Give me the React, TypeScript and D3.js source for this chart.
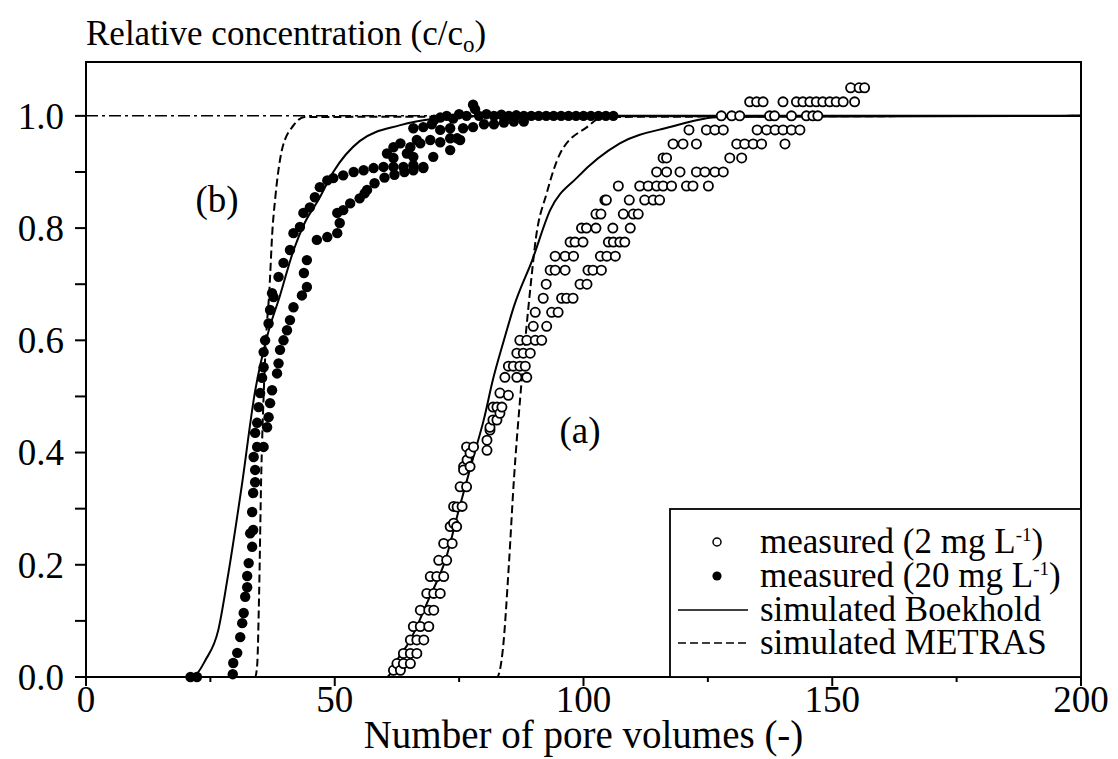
import React from "react";
import * as d3 from "d3";

// ---- data ----
const xTicks = [0, 50, 100, 150, 200];
const xMinorTicks = [25, 75, 125, 175];
const yTicks = [0, 0.2, 0.4, 0.6, 0.8, 1.0];
const yMinorTicks = [0.1, 0.3, 0.5, 0.7, 0.9];

// simulated Boekhold, case (b)
const boekholdB: [number, number][] = [
  [0, 0], [20, 0], [22, 0.004], [24, 0.03], [26.6, 0.084], [28.4, 0.173], [31.3, 0.34],
  [34, 0.51], [36.5, 0.61], [39, 0.68], [41.7, 0.76], [44, 0.81], [46.7, 0.85],
  [49.7, 0.9], [55, 0.955], [63, 0.983], [70, 0.995], [80, 1.0], [200, 1.0],
];
// simulated METRAS, case (b)
const metrasB: [number, number][] = [
  [0, 0], [34, 0], [34.4, 0.02], [34.8, 0.15], [35.2, 0.35], [35.7, 0.5], [36.3, 0.62],
  [36.8, 0.68], [37.5, 0.8], [38, 0.85], [39.4, 0.94], [41.7, 0.983], [44, 0.998], [200, 1.0],
];
// simulated Boekhold, case (a)
const boekholdA: [number, number][] = [
  [0, 0], [60.5, 0], [62.5, 0.03], [65.2, 0.066], [68.8, 0.137], [72.3, 0.21], [75, 0.3],
  [77.8, 0.39], [80, 0.46], [81.8, 0.53], [84, 0.6], [86, 0.66], [89.7, 0.743],
  [93.3, 0.832], [98.7, 0.89], [107.3, 0.951], [117.4, 0.98], [127.4, 0.998], [200, 1.0],
];
// simulated METRAS, case (a)
const metrasA: [number, number][] = [
  [0, 0], [82.6, 0], [83.8, 0.05], [85, 0.2], [86, 0.35], [87.3, 0.5], [88.5, 0.62],
  [89.4, 0.7], [90.4, 0.78], [92.6, 0.862], [95.3, 0.933], [100.7, 0.98], [104, 0.998], [200, 1.0],
];

// measured (20 mg L-1)
const measured20: [number, number][] = [
  [21, 0], [22.3, 0], [29.5, 0.005],
  [29.6, 0.025], [30.4, 0.043], [31, 0.071], [31.4, 0.096], [31.7, 0.114], [32, 0.143],
  [32.4, 0.16], [32.4, 0.18], [32.7, 0.203], [33.4, 0.232], [33, 0.256], [33.6, 0.262],
  [33.4, 0.294], [33.6, 0.328], [34, 0.347],
  [34, 0.369], [33.7, 0.392], [34.4, 0.41], [34, 0.435], [34.4, 0.453], [34.7, 0.481],
  [35, 0.506], [35.4, 0.533], [35.7, 0.552], [35.7, 0.579], [36, 0.6], [36.7, 0.63],
  [37, 0.654], [37.7, 0.677], [37.4, 0.684], [38.7, 0.713], [39.7, 0.738], [41, 0.761],
  [41.7, 0.791], [43, 0.802], [43.7, 0.827], [45, 0.837], [46, 0.855], [47, 0.873],
  [48.5, 0.885], [49.7, 0.889], [51.7, 0.894], [53.8, 0.9], [55.8, 0.903], [57.8, 0.907],
  [59.8, 0.909], [61.8, 0.909], [63.8, 0.909], [65.8, 0.912],
  [35.7, 0.41], [36.4, 0.445], [36.7, 0.463], [37, 0.488], [37.4, 0.511], [38.4, 0.541],
  [38.7, 0.559], [39, 0.583], [39.7, 0.6], [40.4, 0.618], [41, 0.636], [41.7, 0.659],
  [43.4, 0.68], [44.4, 0.695], [43.8, 0.72], [44.4, 0.743], [46.4, 0.779], [48.5, 0.784],
  [50.5, 0.791], [51, 0.809], [50.5, 0.827], [51.7, 0.832], [53.1, 0.844], [55, 0.853],
  [56, 0.862], [56.5, 0.868], [58, 0.88], [60, 0.89], [62, 0.895], [64, 0.9],
  [60.5, 0.933], [61.8, 0.925], [61.8, 0.944], [63.2, 0.951], [64.5, 0.933], [65.2, 0.944],
  [65.8, 0.927], [66.5, 0.957], [67.2, 0.951], [67.8, 0.909], [69.2, 0.957], [69.8, 0.927],
  [71.2, 0.953], [73.2, 0.96], [73.2, 0.939], [74.6, 0.96], [75.2, 0.957], [67.8, 0.907],
  [65.8, 0.903],
  [65.8, 0.978], [67.8, 0.98], [69.5, 0.985], [71.2, 0.975], [73.2, 0.978], [75.8, 0.978],
  [77.8, 0.98], [80, 0.985], [82, 0.985], [84, 0.988], [86, 0.99], [88, 0.99],
  [70, 0.993], [71.2, 0.997], [72.5, 1.0], [73.8, 0.995], [75, 1.003], [76.5, 1.0],
  [77.8, 1.02], [78.2, 1.012], [79, 1.0], [80.5, 1.003], [82, 1.0], [83.5, 1.002],
  [85, 1.0], [86.5, 1.001], [88, 1.0], [89.5, 1.0], [91, 1.0], [92.5, 1.0], [94, 1.0],
  [95.5, 1.0], [97, 1.0], [98.5, 1.0], [100, 1.0], [101.5, 1.0], [103, 1.0], [104.5, 1.0],
  [106, 1.0],
];

// measured (2 mg L-1)
const measured2: [number, number][] = [
  [61.8, 0.012], [63.2, 0.012],
  [62.5, 0.024], [63.8, 0.024], [65.2, 0.024],
  [63.8, 0.042], [65.2, 0.042], [66.5, 0.042],
  [65.2, 0.066], [66.5, 0.066], [67.9, 0.066],
  [65.8, 0.09], [67.2, 0.09], [68.9, 0.09],
  [67.2, 0.119], [68.9, 0.119], [69.9, 0.119],
  [68.5, 0.149], [69.9, 0.149], [71.2, 0.149],
  [69.2, 0.179], [70.5, 0.179], [71.9, 0.179],
  [70.9, 0.208], [72.5, 0.208],
  [71.9, 0.238], [73.6, 0.238],
  [73.2, 0.268], [74.5, 0.268], [73.9, 0.274],
  [73.9, 0.304], [75.6, 0.304], [74.6, 0.303],
  [75.2, 0.339], [76.5, 0.339],
  [75.9, 0.375], [77.2, 0.375], [75.9, 0.369],
  [76.5, 0.41], [77.9, 0.41], [76.6, 0.387], [77.2, 0.399],
  [80.6, 0.404], [80.6, 0.422], [81.2, 0.44], [81.2, 0.445], [81.8, 0.458], [82.6, 0.458],
  [83.2, 0.47], [81.8, 0.481], [82.6, 0.481], [83.6, 0.481], [83.2, 0.506], [84.9, 0.502],
  [84.2, 0.534], [86.6, 0.534], [88.6, 0.534],
  [84.9, 0.554], [85.9, 0.554], [87.2, 0.554], [88.3, 0.554],
  [86.6, 0.577], [87.9, 0.577], [89.3, 0.577],
  [87.2, 0.6], [88.6, 0.6], [90.3, 0.6], [91.6, 0.6],
  [89.9, 0.625], [92.6, 0.625],
  [90.3, 0.65], [93.6, 0.65], [94.9, 0.65],
  [91.9, 0.675], [95.6, 0.675], [96.6, 0.675], [97.9, 0.675],
  [92.5, 0.7], [99.3, 0.7], [100.7, 0.7],
  [93.3, 0.725], [94.3, 0.725], [96.3, 0.725], [100.9, 0.725], [101.9, 0.725], [103.6, 0.725],
  [94.3, 0.75], [96.3, 0.75], [98.0, 0.75], [103.4, 0.75], [104.7, 0.75], [106.4, 0.75],
  [97.3, 0.775], [98.3, 0.775], [99.9, 0.775], [105.0, 0.775], [106.0, 0.775], [107.3, 0.775], [108.3, 0.775],
  [99.6, 0.8], [100.6, 0.8], [102.5, 0.8], [105.9, 0.8], [109.4, 0.8],
  [102.5, 0.825], [103.5, 0.825], [108.0, 0.825], [110.0, 0.825], [111.0, 0.825],
  [104.3, 0.85], [104.6, 0.85], [109.2, 0.85], [112.3, 0.85], [114.0, 0.85], [115.3, 0.85],
  [107.0, 0.875], [111.3, 0.875], [113.0, 0.875], [114.7, 0.875], [116.0, 0.875], [117.7, 0.875],
  [120.7, 0.875], [122.0, 0.875], [125.1, 0.875],
  [114.7, 0.9], [116.7, 0.9], [119.4, 0.9], [122.7, 0.9], [124.4, 0.9], [126.4, 0.9], [128.1, 0.9],
  [116.0, 0.925], [116.7, 0.925], [129.4, 0.925], [131.8, 0.925],
  [118.0, 0.95], [120.0, 0.95], [122.7, 0.95], [130.8, 0.95], [132.4, 0.95], [134.1, 0.95],
  [135.8, 0.95], [140.5, 0.95],
  [121.2, 0.975], [124.7, 0.975], [126.4, 0.975], [128.1, 0.975], [134.9, 0.975], [136.8, 0.975],
  [138.5, 0.975], [140.1, 0.975], [141.8, 0.975], [143.5, 0.975],
  [127.7, 1.0], [129.8, 1.0], [131.4, 1.0], [137.4, 1.0], [138.4, 1.0], [141.8, 1.0],
  [144.8, 1.0], [146.1, 1.0], [147.1, 1.0],
  [133.4, 1.025], [134.8, 1.025], [136.1, 1.025], [140.1, 1.025], [142.8, 1.025], [144.1, 1.025],
  [145.5, 1.025], [146.8, 1.025], [148.1, 1.025], [149.5, 1.025], [150.8, 1.025], [152.2, 1.025],
  [154.5, 1.025],
  [153.7, 1.05], [155.4, 1.05], [156.5, 1.05],
];

// ---- layout ----
const W = 1118;
const H = 759;
const left = 86;
const right = 1081;
const top = 62;
const bottom = 677;
const FONT = "'Liberation Serif', 'Times New Roman', serif";

export default function App() {
  const x = d3.scaleLinear().domain([0, 200]).range([left, right]);
  const y = d3.scaleLinear().domain([0, 1.096]).range([bottom, top]);
  const line = d3
    .line<[number, number]>()
    .x((d) => x(d[0]))
    .y((d) => y(d[1]))
    .curve(d3.curveMonotoneX);

  const open = [...measured2].sort((a, b) => a[0] - b[0]);
  const filled = measured20;
  const r = 4.6;
  const tickFs = 37;
  const titleFs = 35;
  const xTitleFs = 39;
  const legFs = 35;

  const legX = 670;
  const legTop = 509;
  const rows = [553, 587, 621, 654];

  return (
    <svg width={W} height={H} style={{ position: "absolute", left: 0, top: 0, background: "#fff" }} fontFamily={FONT}>
      <rect x={0} y={0} width={W} height={H} fill="#fff" />
      {/* reference line c/co = 1 */}
      <line x1={x(0)} x2={x(200)} y1={y(1)} y2={y(1)} stroke="#000" strokeWidth={1.5} strokeDasharray="12,4,3,4" />

      {/* curves */}
      <path d={line(boekholdB) || ""} fill="none" stroke="#000" strokeWidth={2} />
      <path d={line(boekholdA) || ""} fill="none" stroke="#000" strokeWidth={2} />
      <path d={line(metrasB) || ""} fill="none" stroke="#000" strokeWidth={2} strokeDasharray="8,4" />
      <path d={line(metrasA) || ""} fill="none" stroke="#000" strokeWidth={2} strokeDasharray="8,4" />

      {/* measured points */}
      {filled.map((d, i) => (
        <circle key={"f" + i} cx={x(d[0])} cy={y(d[1])} r={r + 0.6} fill="#000" />
      ))}
      {open.map((d, i) => (
        <circle key={"o" + i} cx={x(d[0])} cy={y(d[1])} r={r} fill="#fff" stroke="#000" strokeWidth={1.8} />
      ))}

      {/* frame */}
      <rect x={left} y={top} width={right - left} height={bottom - top} fill="none" stroke="#000" strokeWidth={2} />

      {/* y axis ticks */}
      {yTicks.map((t) => (
        <g key={"yt" + t}>
          <line x1={left - 11} x2={left} y1={y(t)} y2={y(t)} stroke="#000" strokeWidth={2} />
          <text x={left - 22} y={y(t)} dy="0.35em" textAnchor="end" fontSize={tickFs}>
            {t.toFixed(1)}
          </text>
        </g>
      ))}
      {yMinorTicks.map((t) => (
        <line key={"ym" + t} x1={left - 11} x2={left} y1={y(t)} y2={y(t)} stroke="#000" strokeWidth={2} />
      ))}

      {/* x axis ticks */}
      {xTicks.map((t) => (
        <g key={"xt" + t}>
          <line x1={x(t)} x2={x(t)} y1={bottom} y2={bottom + 9} stroke="#000" strokeWidth={2} />
          <text x={x(t)} y={712} textAnchor="middle" fontSize={tickFs}>
            {t}
          </text>
        </g>
      ))}
      {xMinorTicks.map((t) => (
        <line key={"xm" + t} x1={x(t)} x2={x(t)} y1={bottom} y2={bottom + 5} stroke="#000" strokeWidth={2} />
      ))}

      {/* axis titles */}
      <text x={left} y={45} fontSize={titleFs}>
        Relative concentration (c/c<tspan fontSize={23} dy={7}>o</tspan><tspan dy={-7}>)</tspan>
      </text>
      <text x={(left + right) / 2} y={748} textAnchor="middle" fontSize={xTitleFs}>
        Number of pore volumes (-)
      </text>

      {/* case labels */}
      <text x={217} y={212} textAnchor="middle" fontSize={tickFs}>(b)</text>
      <text x={580} y={443} textAnchor="middle" fontSize={tickFs}>(a)</text>

      {/* legend */}
      <rect x={legX} y={legTop} width={right - legX} height={bottom - legTop} fill="#fff" stroke="#000" strokeWidth={1.8} />
      <circle cx={717} cy={rows[0] - 11} r={4} fill="#fff" stroke="#000" strokeWidth={1.5} />
      <circle cx={717} cy={rows[1] - 11} r={4.6} fill="#000" />
      <line x1={678} x2={748} y1={rows[2] - 11} y2={rows[2] - 11} stroke="#000" strokeWidth={1.5} />
      <line x1={678} x2={748} y1={rows[3] - 11} y2={rows[3] - 11} stroke="#000" strokeWidth={1.5} strokeDasharray="8,4" />
      <text x={760} y={rows[0]} fontSize={legFs}>
        measured (2 mg L<tspan fontSize={19} dy={-12}>-1</tspan><tspan dy={12}>)</tspan>
      </text>
      <text x={760} y={rows[1]} fontSize={legFs}>
        measured (20 mg L<tspan fontSize={19} dy={-12}>-1</tspan><tspan dy={12}>)</tspan>
      </text>
      <text x={760} y={rows[2]} fontSize={legFs}>simulated Boekhold</text>
      <text x={760} y={rows[3]} fontSize={legFs}>simulated METRAS</text>
    </svg>
  );
}
